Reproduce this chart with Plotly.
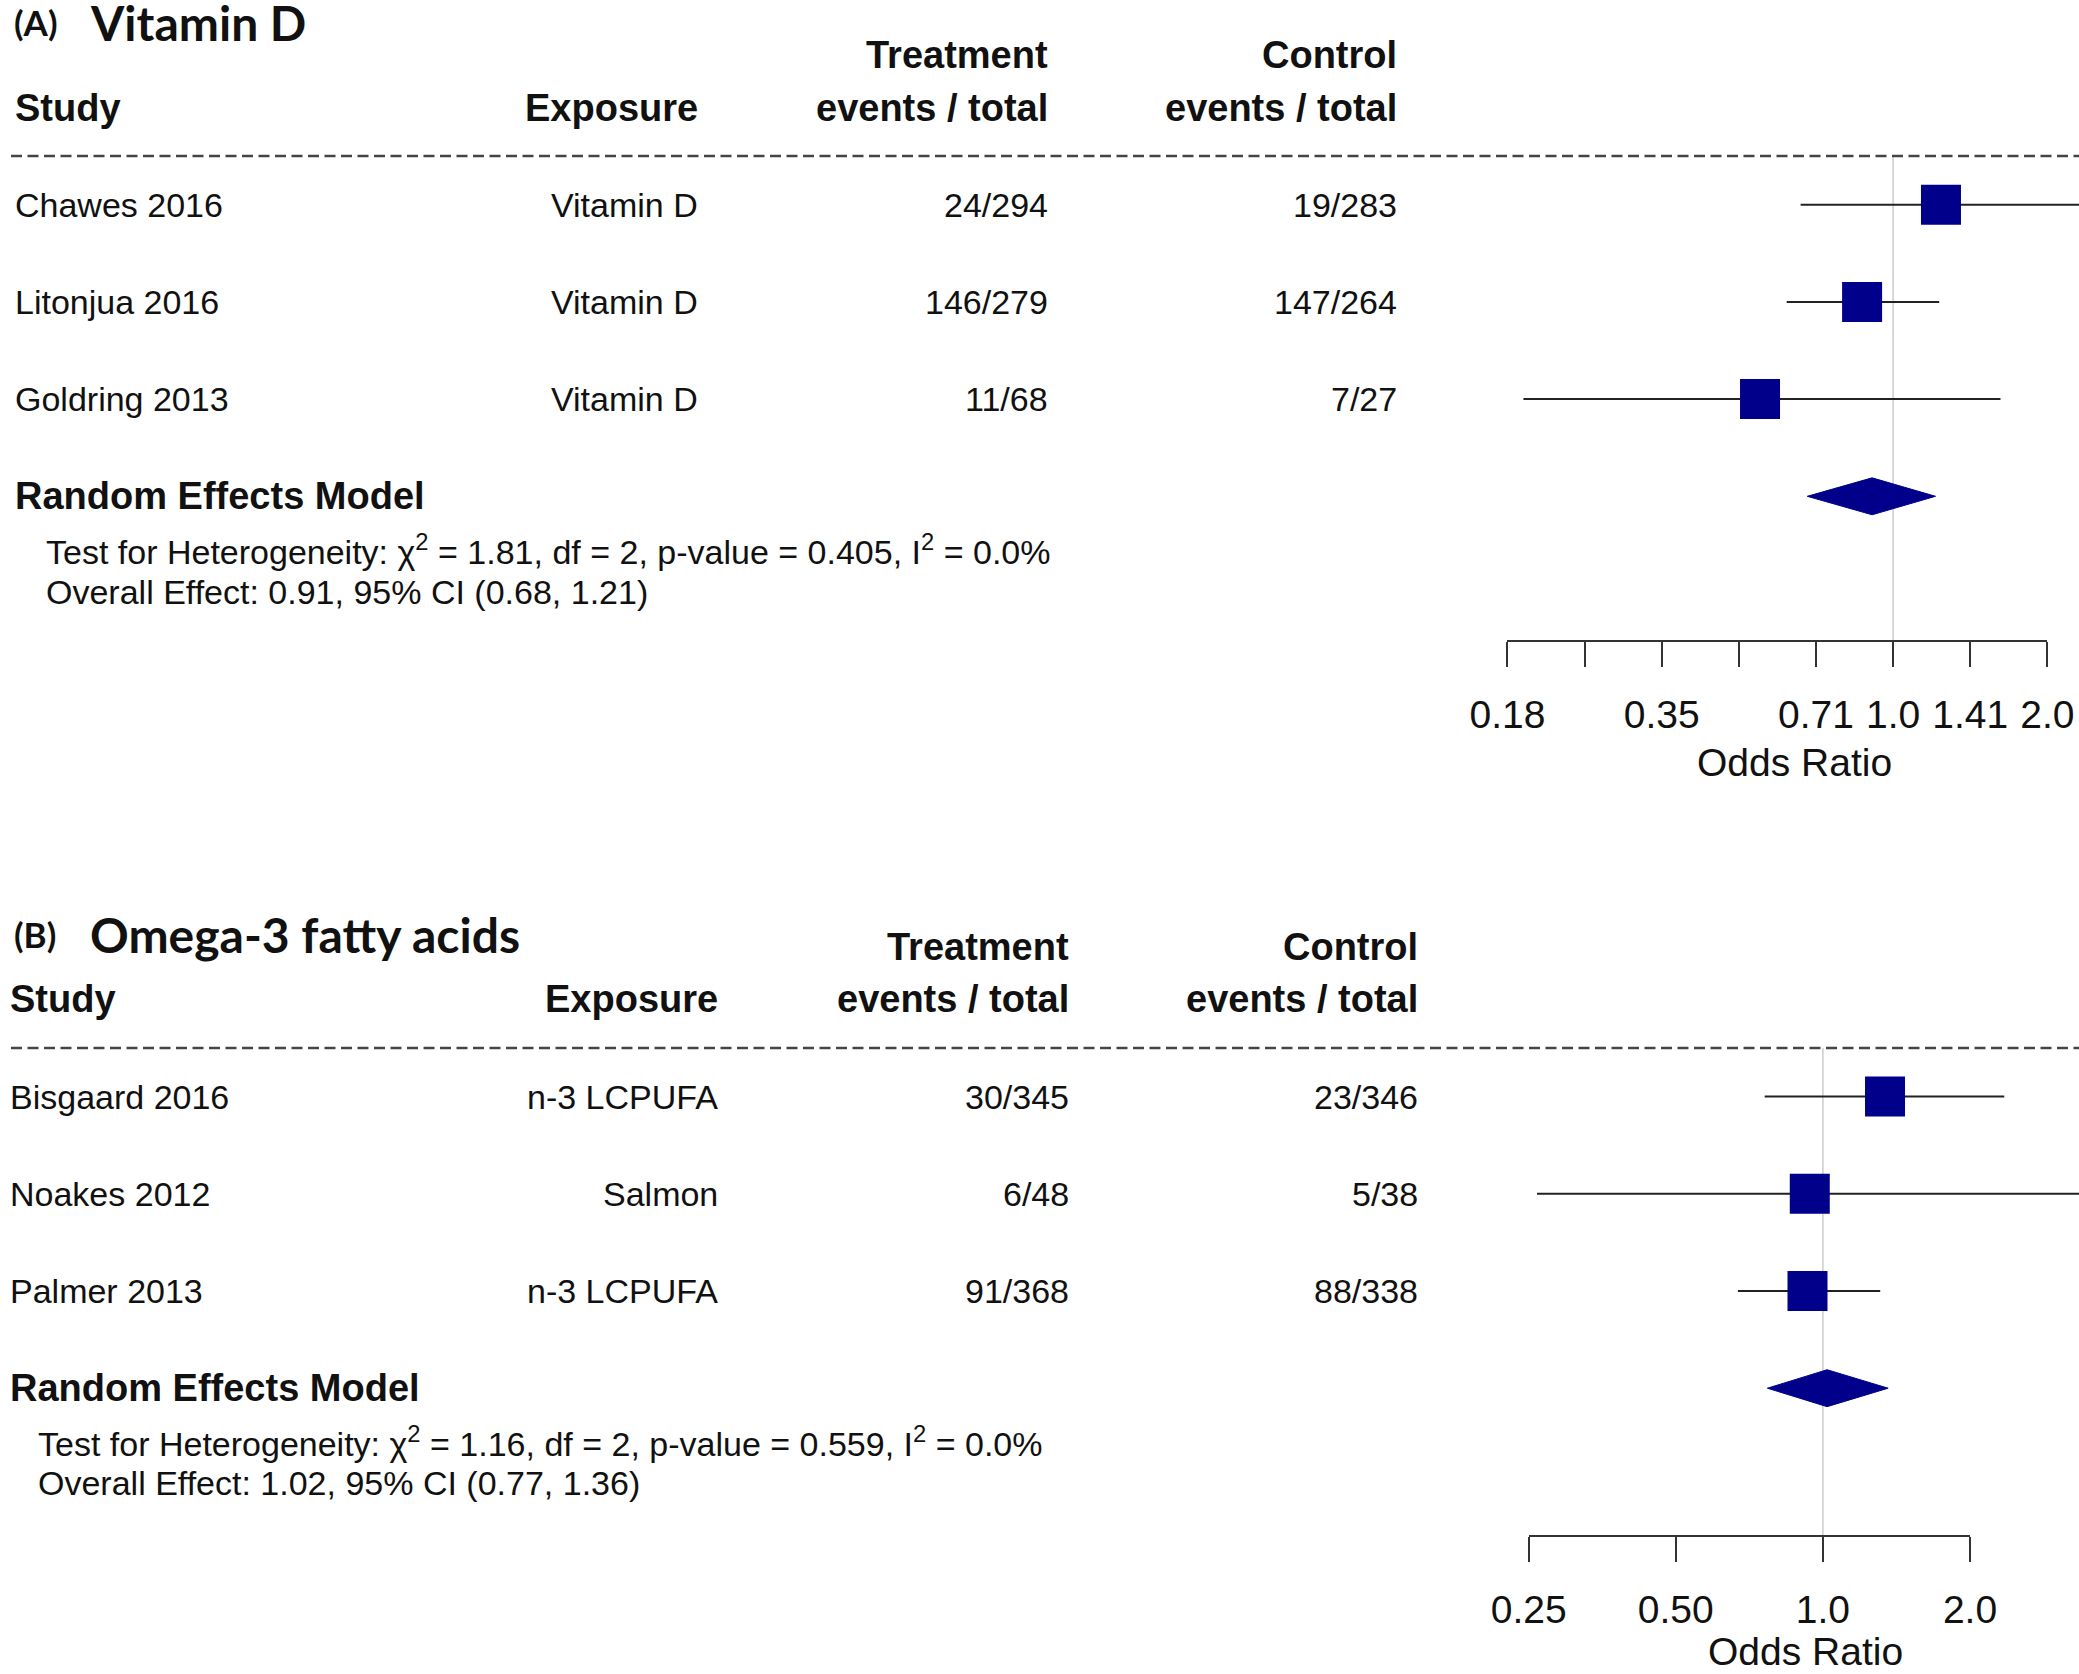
import numpy as np
import plotly.graph_objects as go

# ---------------- data ----------------
# Panel A: Vitamin D
studies_a = ["Chawes 2016", "Litonjua 2016", "Goldring 2013"]
exposure_a = ["Vitamin D", "Vitamin D", "Vitamin D"]
treat_a = ["24/294", "146/279", "11/68"]
ctrl_a = ["19/283", "147/264", "7/27"]
or_a = [1.24, 0.87, 0.55]
lo_a = [0.66, 0.62, 0.19]
hi_a = [2.31, 1.23, 1.62]
pooled_a = [0.91, 0.68, 1.21]          # estimate, lower, upper
het_a = [1.81, 2, 0.405, 0.0]          # chi2, df, p, I2
tickvals_a = [0.1768, 0.3536, 0.7071, 1.0, 1.4142, 2.0]
ticktext_a = ["0.18", "0.35", "0.71", "1.0", "1.41", "2.0"]
minorticks_a = [0.25, 0.5]

# Panel B: Omega-3 fatty acids
studies_b = ["Bisgaard 2016", "Noakes 2012", "Palmer 2013"]
exposure_b = ["n-3 LCPUFA", "Salmon", "n-3 LCPUFA"]
treat_b = ["30/345", "6/48", "91/368"]
ctrl_b = ["23/346", "5/38", "88/338"]
or_b = [1.34, 0.94, 0.93]
lo_b = [0.76, 0.26, 0.67]
hi_b = [2.35, 3.36, 1.31]
pooled_b = [1.02, 0.77, 1.36]
het_b = [1.16, 2, 0.559, 0.0]
tickvals_b = [0.25, 0.5, 1.0, 2.0]
ticktext_b = ["0.25", "0.50", "1.0", "2.0"]
minorticks_b = []

# ---------------- layout constants ----------------
W, H = 2079, 1674
ROW = 97.2
FONT = "Liberation Sans, Arial, sans-serif"
TFONT = "Lato, Open Sans, sans-serif"
NAVY = "#00008B"
INK = "#111111"
BOLD = 38
REG = 34

panels = [
    dict(key="A", title="Vitamin D", studies=studies_a, exposure=exposure_a, treat=treat_a,
         ctrl=ctrl_a, est=or_a, lo=lo_a, hi=hi_a, pooled=pooled_a, het=het_a,
         tickvals=tickvals_a, ticktext=ticktext_a, minor=minorticks_a,
         row0=204.7, top=0, bottom=H / 2, ydom=[0.5, 1.0],
         ref_px=1893.1, per_log2=154.29, axis_px=641, title_px=22,
         cols=dict(study=13, exp=700, trt=1050, ctl=1399, test=44),
         xlab_x=1794, xlab_px=762, xa="x", ya="y", xv="x3"),
    dict(key="B", title="Omega-3 fatty acids", studies=studies_b, exposure=exposure_b, treat=treat_b,
         ctrl=ctrl_b, est=or_b, lo=lo_b, hi=hi_b, pooled=pooled_b, het=het_b,
         tickvals=tickvals_b, ticktext=ticktext_b, minor=minorticks_b,
         row0=1096.6, top=H / 2, bottom=H, ydom=[0.0, 0.5],
         ref_px=1822.9, per_log2=147.13, axis_px=1536, title_px=934,
         cols=dict(study=8, exp=720, trt=1071, ctl=1420, test=36),
         xlab_x=1805, xlab_px=1651, xa="x2", ya="y2", xv="x4"),
]

fig = go.Figure()
annotations = []
shapes = []
layout_axes = {}


def axname(ref):
    return "xaxis" + ref[1:] if ref.startswith("x") else "yaxis" + ref[1:]


for P in panels:
    n = len(P["studies"])
    rows = list(range(n))
    rem_row = n
    xa, ya = P["xa"], P["ya"]

    # y-axis in "row" units
    y_top = (P["top"] - P["row0"]) / ROW
    y_bot = (P["bottom"] - P["row0"]) / ROW
    layout_axes[axname(ya)] = dict(domain=P["ydom"], range=[y_bot, y_top], visible=False,
                                   anchor=xa, fixedrange=True)
    # data x-axis spanning whole width (invisible)
    lg0 = np.log10(2 ** ((0 - P["ref_px"]) / P["per_log2"]))
    lg1 = np.log10(2 ** ((W - P["ref_px"]) / P["per_log2"]))
    layout_axes[axname(xa)] = dict(domain=[0, 1], type="log", range=[lg0, lg1], visible=False,
                                   anchor=ya, fixedrange=True)
    # visible axis, spanning first to last tick only
    tv = sorted(P["tickvals"] + P["minor"])
    px_first = P["ref_px"] + P["per_log2"] * np.log2(tv[0])
    px_last = P["ref_px"] + P["per_log2"] * np.log2(tv[-1])
    ax = dict(
        domain=[px_first / W, px_last / W], type="log",
        range=[np.log10(tv[0]), np.log10(tv[-1])],
        anchor="free", position=1 - P["axis_px"] / H, side="bottom",
        tickvals=P["tickvals"], ticktext=P["ticktext"], ticks="outside", ticklen=25, tickwidth=2,
        tickcolor="#333333", showline=True, linecolor="#333333", linewidth=2,
        showgrid=False, zeroline=False, tickfont=dict(family=FONT, size=39, color=INK),
        ticklabelstandoff=14, fixedrange=True, automargin=False)
    if P["minor"]:
        ax["minor"] = dict(tickvals=P["minor"], ticks="outside", ticklen=25, tickwidth=2,
                           tickcolor="#333333", showgrid=False)
    layout_axes[axname(P["xv"])] = ax

    # dummy trace so the visible axis is drawn
    fig.add_trace(go.Scatter(x=[1.0], y=[rem_row], xaxis=P["xv"], yaxis=ya, mode="markers",
                             marker=dict(opacity=0, size=1), hoverinfo="skip", showlegend=False))

    # reference line at OR = 1
    axis_row = (P["axis_px"] - P["row0"]) / ROW
    shapes.append(dict(type="line", xref=xa, yref=ya, x0=1, x1=1, y0=-0.5, y1=axis_row,
                       line=dict(color="#cccccc", width=1.5), layer="below"))
    # dashed separator
    shapes.append(dict(type="line", xref="paper", yref=ya, x0=11 / W, x1=1, y0=-0.5, y1=-0.5,
                       line=dict(color="#444444", width=2.5, dash="11px,5.5px")))

    # confidence intervals
    cx, cy = [], []
    for r, l, h in zip(rows, P["lo"], P["hi"]):
        cx += [l, h, None]
        cy += [r, r, None]
    fig.add_trace(go.Scatter(x=cx, y=cy, xaxis=xa, yaxis=ya, mode="lines",
                             line=dict(color="#222222", width=2), hoverinfo="skip", showlegend=False))
    # point estimates
    fig.add_trace(go.Scatter(x=P["est"], y=rows, xaxis=xa, yaxis=ya, mode="markers",
                             marker=dict(symbol="square", size=40, color=NAVY, line=dict(width=0)),
                             showlegend=False))
    # pooled diamond
    pe, pl, ph = P["pooled"]
    hh = 0.19
    fig.add_trace(go.Scatter(x=[pl, pe, ph, pe, pl],
                             y=[rem_row, rem_row - hh, rem_row, rem_row + hh, rem_row],
                             xaxis=xa, yaxis=ya, mode="lines", fill="toself", fillcolor=NAVY,
                             line=dict(color=NAVY, width=1), showlegend=False, hoverinfo="skip"))

    C = P["cols"]

    def ann(text, xpx, row, anchor="left", size=REG, bold=False, family=FONT):
        annotations.append(dict(text=f"<b>{text}</b>" if bold else text, x=xpx / W, xref="paper",
                                y=row, yref=ya, xanchor=anchor, yanchor="middle", showarrow=False,
                                font=dict(family=family, size=size, color=INK)))

    # titles
    title_row = (P["title_px"] - P["row0"]) / ROW
    ann(f"({P['key']})", 12, title_row, size=35, bold=True, family=TFONT)
    ann(P["title"], 88, title_row, size=48, bold=True, family=TFONT)

    # headers
    ann("Treatment", C["trt"], -1.54, "right", BOLD, True)
    ann("Control", C["ctl"], -1.54, "right", BOLD, True)
    ann("Study", C["study"], -1, "left", BOLD, True)
    ann("Exposure", C["exp"], -1, "right", BOLD, True)
    ann("events / total", C["trt"], -1, "right", BOLD, True)
    ann("events / total", C["ctl"], -1, "right", BOLD, True)

    # rows
    for r in rows:
        ann(P["studies"][r], C["study"], r, "left")
        ann(P["exposure"][r], C["exp"], r, "right")
        ann(P["treat"][r], C["trt"], r, "right")
        ann(P["ctrl"][r], C["ctl"], r, "right")

    ann("Random Effects Model", C["study"], rem_row, "left", BOLD, True)
    chi2, df, pv, i2 = P["het"]
    ann(f"Test for Heterogeneity: χ<sup>2</sup> = {chi2:.2f}, df = {df}, p-value = {pv:.3f}, "
        f"I<sup>2</sup> = {i2:.1f}%", C["test"], rem_row + 0.55, "left", REG)
    ann(f"Overall Effect: {pe:.2f}, 95% CI ({pl:.2f}, {ph:.2f})", C["test"], rem_row + 0.98, "left", REG)

    # x label
    xlab_row = (P["xlab_px"] - P["row0"]) / ROW
    ann("Odds Ratio", P["xlab_x"], xlab_row, "center", 39)

fig.update_layout(width=W, height=H, margin=dict(l=0, r=0, t=0, b=0, pad=0, autoexpand=False),
                  paper_bgcolor="white", plot_bgcolor="rgba(0,0,0,0)", showlegend=False,
                  annotations=annotations, shapes=shapes, **layout_axes)

fig.write_html("out.html", config=dict(displayModeBar=False),
               post_script="document.body.style.margin='0px';document.body.style.overflow='hidden';")
